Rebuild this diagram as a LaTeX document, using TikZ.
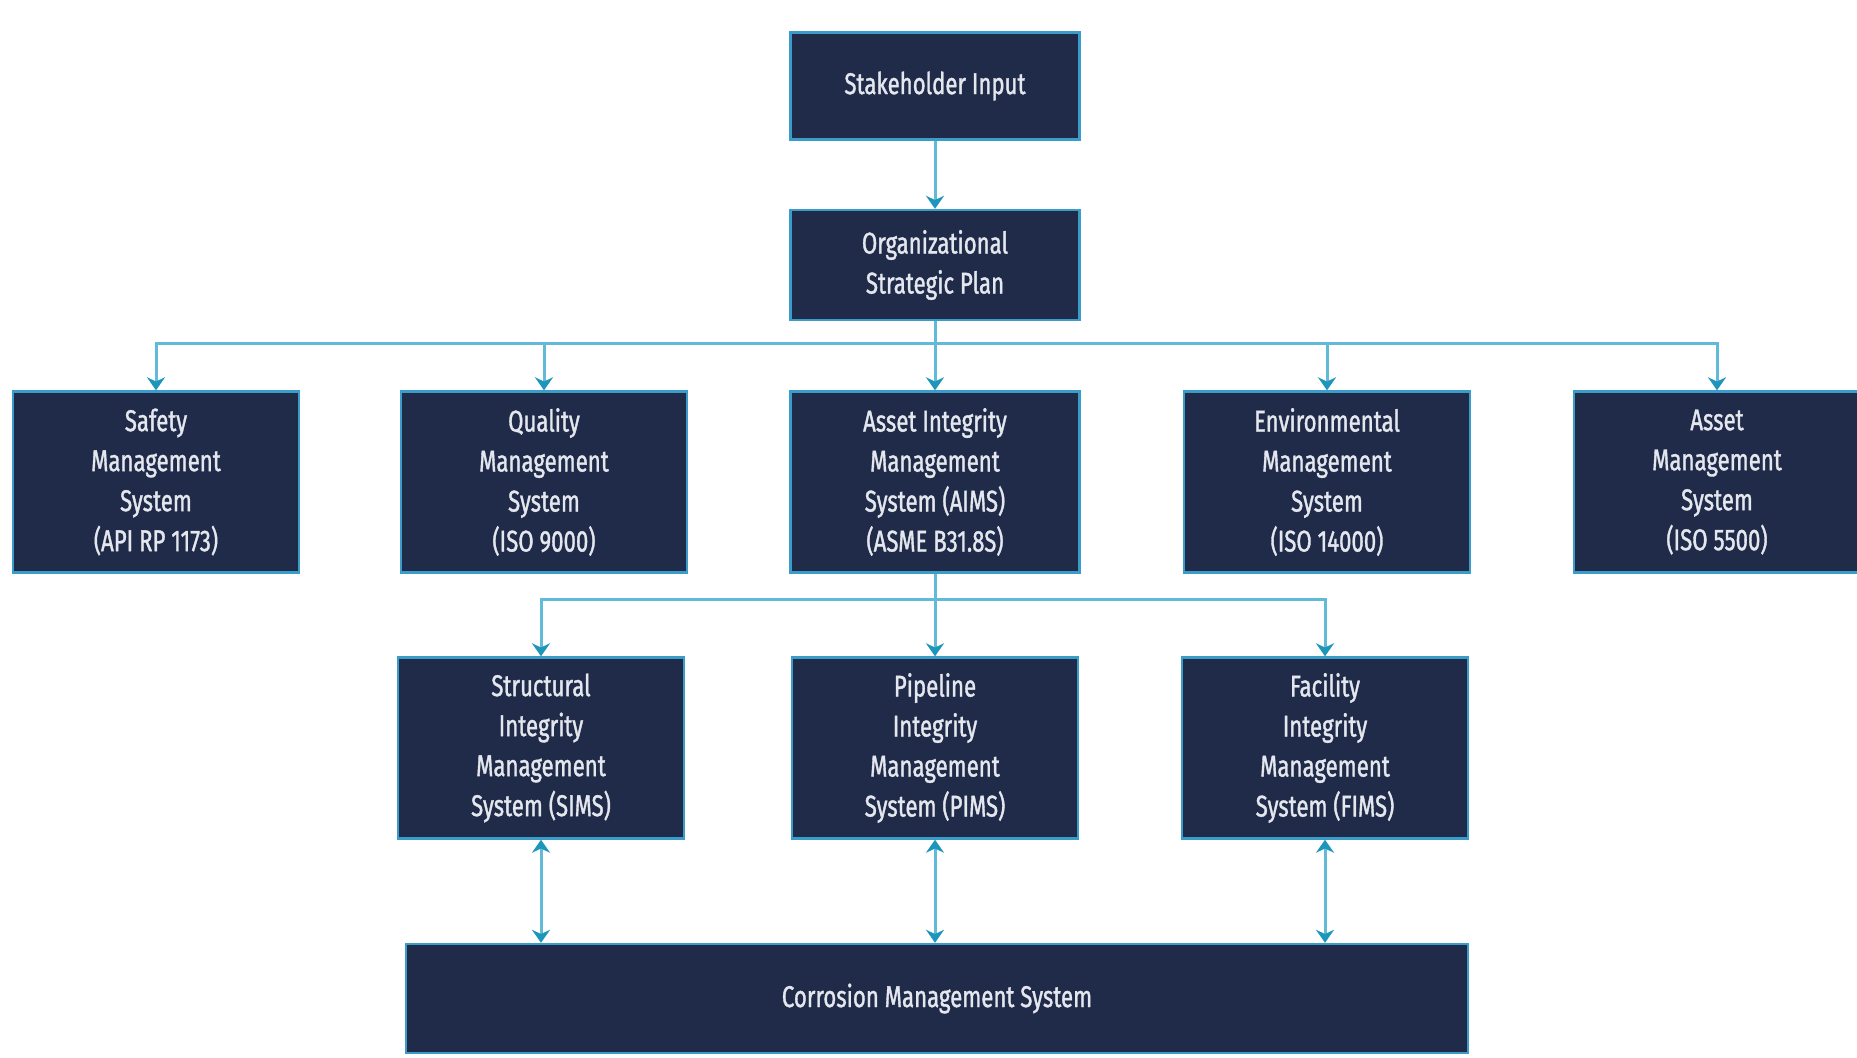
\documentclass[tikz,border=0pt]{standalone}
\usepackage{fontspec}
\setmainfont[FakeStretch=0.74, FakeBold=1.2]{Fira Sans}
\usepackage{tikz}
\usetikzlibrary{positioning, arrows.meta}
\definecolor{cmnavy}{HTML}{1F2B49}
\definecolor{cmedge}{HTML}{3A9CC8}
\definecolor{cmline}{HTML}{62BAD9}
\definecolor{cmtip}{HTML}{1E95BA}
\definecolor{cmtext}{HTML}{E4E7EE}

\begin{document}
\begin{tikzpicture}[x=0.5pt, y=-0.5pt, font=\fontsize{15}{20}\selectfont,
        box/.style={draw=cmedge, line width=1.2pt, fill=cmnavy, text=cmtext, align=center,
          minimum width=143pt, minimum height=90.5pt, inner sep=2pt},
        link/.style={draw=cmline, line width=1.5pt, -{Stealth[length=6.5pt, width=9pt, color=cmtip]}},
        both/.style={link, {Stealth[length=6.5pt, width=9pt, color=cmtip]}-{Stealth[length=6.5pt, width=9pt, color=cmtip]}}]
        \fill[white] (0,0) rectangle (1857,1057);
        \useasboundingbox (0,0) rectangle (1857,1057);
        % top of the tree
        \node[box, minimum width=144.5pt, minimum height=53.5pt] (stake) at (935,86) {Stakeholder Input};
        \node[box, minimum width=144.5pt, minimum height=55pt] (plan) at (935,265) {Organizational\\Strategic Plan};
        % management systems
        \node[box] (safety) at (156,482) {Safety\\Management\\System\\(API RP 1173)};
        \node[box] (quality) at (544,482) {Quality\\Management\\System\\(ISO 9000)};
        \node[box, minimum width=144.5pt] (aims) at (935,482) {Asset Integrity\\Management\\System (AIMS)\\(ASME B31.8S)};
        \node[box] (env) at (1327,482) {Environmental\\Management\\System\\(ISO 14000)};
        \node[box] (asset) at (1717,482) {Asset\\Management\\System\\(ISO 5500)};
        % integrity systems
        \node[box] (sims) at (541,748) {Structural\\Integrity\\Management\\System (SIMS)};
        \node[box] (pims) at (935,748) {Pipeline\\Integrity\\Management\\System (PIMS)};
        \node[box] (fims) at (1325,748) {Facility\\Integrity\\Management\\System (FIMS)};
        \node[box, minimum width=531pt, minimum height=54.5pt] (cms) at (937,998.5) {Corrosion Management System};
        \draw[link] (stake) -- (plan);
        \draw[link] (plan) -- (aims);
        \foreach \n in {safety, quality, env, asset}
          \draw[link] (plan.south) -- ++(0,22) -| (\n.north);
        \draw[link] (aims) -- (pims);
        \foreach \n in {sims, fims}
          \draw[link] (aims.south) -- ++(0,26) -| (\n.north);
        \foreach \n in {sims, pims, fims}
          \draw[both] (\n.south) -- (\n.south |- cms.north);
      \end{tikzpicture}
\end{document}
